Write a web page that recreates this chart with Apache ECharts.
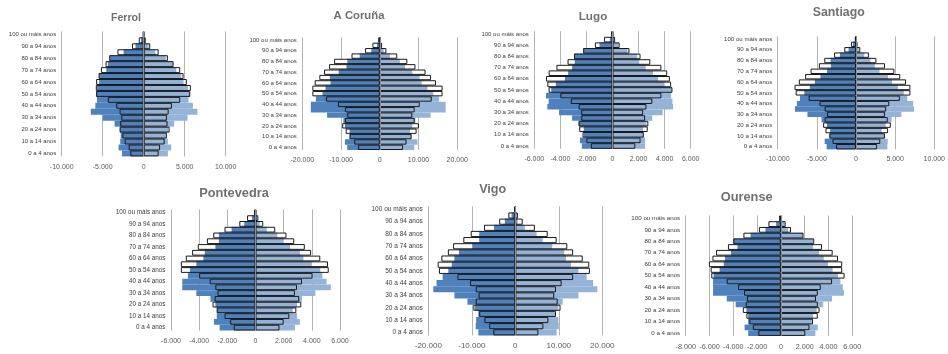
<!DOCTYPE html>
<html><head><meta charset="utf-8">
<script src="https://cdn.jsdelivr.net/npm/echarts@6/dist/echarts.min.js"></script>
<style>html,body{margin:0;padding:0;background:#fff}#c{width:948px;height:354px}</style>
</head><body><div id="c"></div>
<script>
const ageGroups = ["0 a 4 anos","5 a 9 anos","10 a 14 anos","15 a 19 anos","20 a 24 anos","25 a 29 anos","30 a 34 anos","35 a 39 anos","40 a 44 anos","45 a 49 anos","50 a 54 anos","55 a 59 anos","60 a 64 anos","65 a 69 anos","70 a 74 anos","75 a 79 anos","80 a 84 anos","85 a 89 anos","90 a 94 anos","95 a 99 anos","100 ou máis anos"];

// Ferrol
const ferrolMenFilled = [2650,3060,2860,2800,2900,3550,5000,6450,5900,5700,5800,5700,5430,5430,4570,4370,4160,2450,1000,330,50];
const ferrolWomenFilled = [2950,3360,2950,2700,3000,3720,5350,6550,6000,5470,5670,5400,4860,4570,3970,3560,2700,1420,600,150,30];
const ferrolMenOutline = [1630,1840,2330,2600,2940,2860,2730,2940,3350,4370,5800,5840,5800,5500,5220,4650,4200,3200,1430,600,100];
const ferrolWomenOutline = [1820,2000,2550,2830,3160,2900,2830,3040,3440,4450,5670,5750,5260,4860,4450,3640,2950,1820,800,250,50];
// A Coruña
const corunaMenFilled = [8400,9000,7800,7800,9000,9400,13600,17800,17800,16500,14800,14000,12700,12900,10600,8600,8400,5200,2200,700,200];
const corunaWomenFilled = [8900,9700,8200,7800,8400,9200,13100,17000,17000,15300,13800,12300,10800,10300,8400,6500,5200,2600,1000,300,100];
const corunaMenOutline = [5600,6600,7800,8800,9700,9000,8400,9000,10800,13900,17400,17400,16800,15600,14400,13100,11800,7300,3800,1900,400];
const corunaWomenOutline = [6000,6900,8200,9500,10100,9000,8400,9000,10300,13400,16200,16200,14500,13200,11800,9200,7100,4500,1700,600,100];
// Lugo
const lugoMenFilled = [2350,2500,2200,2200,2600,3100,4100,5000,4900,5100,4700,4350,3650,3400,3100,2900,2950,2250,1000,200,50];
const lugoWomenFilled = [2500,2500,2400,2350,2600,3050,3850,4650,4600,4500,4550,4000,3500,3100,2550,2050,1900,1150,450,100,20];
const lugoMenOutline = [1660,2000,2300,2550,2600,2400,2400,2600,3200,4000,4900,5000,5100,4900,4300,3450,2950,2250,1350,650,100];
const lugoWomenOutline = [1750,2150,2400,2700,2750,2500,2350,2600,3050,3750,4600,4500,4400,4200,3750,2900,2150,1300,550,200,50];
// Santiago
const santiagoMenFilled = [3750,4000,3400,3300,3700,4400,6200,7800,7550,7150,6600,5900,5250,4550,3700,3200,3250,2050,950,400,100];
const santiagoWomenFilled = [4000,4050,3650,3300,3800,4550,5800,7400,7300,6550,6100,5350,4600,4100,3000,2400,1850,1050,350,100,30];
const santiagoMenOutline = [2550,3000,3400,3900,4200,4000,3700,4000,4650,6050,7700,7850,7300,6500,5800,4750,4050,2800,1500,650,150];
const santiagoWomenOutline = [2700,3100,3700,4100,4450,4050,3700,3850,4250,5600,6950,6950,6400,5650,4900,3700,2600,1650,550,200,50];
// Pontevedra
const pontevedraMenFilled = [2550,2950,2750,2750,2850,3200,4200,5200,5200,4800,4650,4200,3700,3600,2850,2600,2600,1700,800,250,50];
const pontevedraWomenFilled = [2800,3150,2950,2650,2950,3300,4250,5350,5050,4750,4600,4000,3400,3150,2450,2000,1550,800,300,100,20];
const pontevedraMenOutline = [1550,1800,2200,2750,3050,2900,2700,2850,3250,4000,5300,5300,4950,4500,4100,3450,3000,2200,1150,600,100];
const pontevedraWomenOutline = [1700,2000,2400,2900,3250,3100,2800,2950,3300,4050,5200,5150,4600,3950,3500,2750,2200,1400,550,200,50];
// Vigo
const vigoMenFilled = [8500,9100,9000,8500,9300,11000,14000,18850,18100,16700,15400,14600,14000,12950,9900,8300,8300,4900,2400,850,150];
const vigoWomenFilled = [9500,10000,9900,9100,9900,10900,14500,18850,17900,16400,14500,12800,11650,11250,8500,6300,4900,2200,550,200,50];
const vigoMenOutline = [5050,6000,7100,8300,9650,9100,8450,9100,10400,13300,17550,17850,17000,15500,14300,11950,10250,7200,3700,1600,250];
const vigoWomenOutline = [5300,6450,7600,9350,10400,9750,8950,9350,10650,13300,17150,17000,15500,13300,11950,9500,7450,4500,1700,600,100];
// Ourense
const ourenseMenFilled = [2750,3050,2750,2750,2900,3800,4550,5700,5700,5700,5650,5150,4800,4700,4200,3650,4000,2550,1300,400,100];
const ourenseWomenFilled = [2900,3100,2600,2700,3000,3550,4300,5300,5200,5000,4800,4350,3950,3600,3200,2700,2700,1850,600,300,50];
const ourenseMenOutline = [1900,2350,2650,2900,3200,2950,2850,3100,3600,4550,5850,5900,6050,5750,5450,4450,4000,3150,1850,1050,150];
const ourenseWomenOutline = [2050,2400,2700,3100,3250,3100,2950,3100,3350,4300,5350,5150,5150,4800,4350,3450,2800,1900,850,400,100];

const cities = [
  {name:"Ferrol", mf:ferrolMenFilled, wf:ferrolWomenFilled, mo:ferrolMenOutline, wo:ferrolWomenOutline, min:-10000, max:10000, step:5000},
  {name:"A Coruña", mf:corunaMenFilled, wf:corunaWomenFilled, mo:corunaMenOutline, wo:corunaWomenOutline, min:-20000, max:20000, step:10000},
  {name:"Lugo", mf:lugoMenFilled, wf:lugoWomenFilled, mo:lugoMenOutline, wo:lugoWomenOutline, min:-6000, max:6000, step:2000},
  {name:"Santiago", mf:santiagoMenFilled, wf:santiagoWomenFilled, mo:santiagoMenOutline, wo:santiagoWomenOutline, min:-10000, max:10000, step:5000},
  {name:"Pontevedra", mf:pontevedraMenFilled, wf:pontevedraWomenFilled, mo:pontevedraMenOutline, wo:pontevedraWomenOutline, min:-6000, max:6000, step:2000},
  {name:"Vigo", mf:vigoMenFilled, wf:vigoWomenFilled, mo:vigoMenOutline, wo:vigoWomenOutline, min:-20000, max:20000, step:10000},
  {name:"Ourense", mf:ourenseMenFilled, wf:ourenseWomenFilled, mo:ourenseMenOutline, wo:ourenseWomenOutline, min:-8000, max:6000, step:2000}
];

// layout (pixels)
const layout = [
  {left:61.7, top:31.4, w:164, h:125, tx:126, ty:18.5, ts:10.6, cf:6, vf:7, vm:7},
  {left:302.3, top:37.3, w:155, h:112.7, tx:359, ty:17.5, ts:11.3, cf:6, vf:7, vm:6.5},
  {left:534.3, top:31.2, w:156.4, h:117.6, tx:593, ty:17.5, ts:11.7, cf:6, vf:7, vm:6.5},
  {left:777.7, top:36.3, w:161.3, h:113.1, tx:838.7, ty:14, ts:12.3, cf:6.1, vf:7, vm:6.5},
  {left:171, top:209.5, w:169, h:121, tx:234, ty:194.8, ts:12.8, cf:6.3, vf:7, vm:7},
  {left:428.3, top:206.3, w:174, h:129.1, tx:492.7, ty:190.5, ts:12.6, cf:6.5, vf:8, vm:6.5},
  {left:685.7, top:215.5, w:166.6, h:120.4, tx:746.7, ty:198.5, ts:12.8, cf:6.2, vf:7.2, vm:7.5}
];

const fmt = v => (v < 0 ? '-' : '') + String(Math.abs(v)).replace(/\B(?=(\d{3})+(?!\d))/g, '.');
const MEN = '#4F81BD', WOMEN = '#95B3D7';

const option = {animation:false, backgroundColor:'#fff', title:[], grid:[], xAxis:[], yAxis:[], series:[]};
cities.forEach((c, i) => {
  const L = layout[i];
  option.title.push({text:c.name, left:L.tx, top:L.ty - L.ts*0.6, textAlign:'center', padding:0,
    textStyle:{fontFamily:'Liberation Sans, Arial, sans-serif', fontSize:L.ts, fontWeight:'bold', color:'#707070'}});
  option.grid.push({left:L.left, top:L.top, width:L.w, height:L.h, containLabel:false});
  option.xAxis.push({type:'value', gridIndex:i, min:c.min, max:c.max, interval:c.step,
    axisLine:{show:false}, axisTick:{show:false},
    splitLine:{show:true, lineStyle:{color:'#b3b3b3', width:1}},
    axisLabel:{fontSize:L.vf, color:'#595959', margin:L.vm, fontFamily:'Liberation Sans, Arial, sans-serif', formatter:fmt}});
  option.yAxis.push({type:'category', gridIndex:i, data:ageGroups,
    axisLine:{show:false}, axisTick:{show:false}, splitLine:{show:false},
    axisLabel:{interval:1, fontSize:L.cf, color:'#404040', margin:5.5, fontFamily:'Liberation Sans, Arial, sans-serif'}});
  const base = {type:'bar', xAxisIndex:i, yAxisIndex:i, barGap:'-100%', barCategoryGap:'0%', silent:true};
  option.series.push(Object.assign({}, base, {name:'mo-fill', z:2, data:c.mo.map(v=>-v), itemStyle:{color:'#ffffff'}}));
  option.series.push(Object.assign({}, base, {name:'wo-fill', z:2, data:c.wo.slice(), itemStyle:{color:'#ffffff'}}));
  option.series.push(Object.assign({}, base, {name:'mf', z:3, data:c.mf.map(v=>-v), itemStyle:{color:MEN}}));
  option.series.push(Object.assign({}, base, {name:'wf', z:3, data:c.wf.slice(), itemStyle:{color:WOMEN}}));
  option.series.push(Object.assign({}, base, {name:'mo', z:4, data:c.mo.map(v=>-v), itemStyle:{color:'rgba(0,0,0,0)', borderColor:'#1a1a1a', borderWidth:1}}));
  option.series.push(Object.assign({}, base, {name:'wo', z:4, data:c.wo.slice(), itemStyle:{color:'rgba(0,0,0,0)', borderColor:'#1a1a1a', borderWidth:1},
    markLine:{silent:true, symbol:'none', z:5, label:{show:false}, lineStyle:{color:'#8c8c8c', width:1, type:'solid'}, data:[{xAxis:0}]}}));
});

const chart = echarts.init(document.getElementById('c'), null, {renderer:'canvas'});
chart.setOption(option);
</script>
</body></html>
